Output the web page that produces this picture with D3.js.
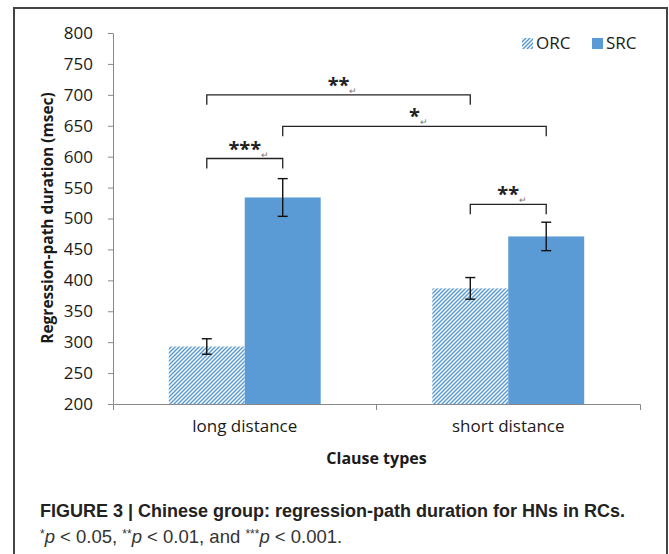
<!DOCTYPE html>
<html>
<head>
<meta charset="utf-8">
<script src="https://cdn.jsdelivr.net/npm/d3@7"></script>
<style>
  body { margin: 0; background: #fff; }
  text { font-family: "Open Sans", sans-serif; }
</style>
</head>
<body>
<div id="chart"></div>
<script>
// data
const categories = ["long distance", "short distance"];
const seriesNames = ["ORC", "SRC"];
const orcValues = [293, 387];
const srcValues = [534, 471];
const orcErrors = [12.5, 17.5];
const srcErrors = [30.5, 23];
const yTicks = [200, 250, 300, 350, 400, 450, 500, 550, 600, 650, 700, 750, 800];

// significance brackets: [category, series] at each end, height in msec, label
const bracketFrom = [["long distance", "ORC"], ["long distance", "SRC"], ["long distance", "ORC"], ["short distance", "ORC"]];
const bracketTo = [["short distance", "ORC"], ["short distance", "SRC"], ["long distance", "SRC"], ["short distance", "SRC"]];
const bracketLevels = [700, 649, 597, 523];
const bracketLabels = ["**", "*", "***", "**"];

// svg container
const svgWidth = 669;
const svgHeight = 554;
const blue = "#5b9bd5";

const svg = d3.select("#chart").append("svg")
    .attr("width", svgWidth)
    .attr("height", svgHeight);

// hatch pattern for ORC
const defs = svg.append("defs");
const pat = defs.append("pattern")
    .attr("id", "hatch")
    .attr("patternUnits", "userSpaceOnUse")
    .attr("width", 4)
    .attr("height", 4);
pat.append("rect").attr("width", 4).attr("height", 4).attr("fill", "#fff");
pat.append("path")
    .attr("d", "M-1,1 l2,-2 M0,4 l4,-4 M3,5 l2,-2")
    .attr("stroke", blue)
    .attr("stroke-width", 1.5);

// frame around the figure
svg.append("rect")
    .attr("x", 14).attr("y", 8)
    .attr("width", 653).attr("height", 570)
    .attr("fill", "none")
    .attr("stroke", "#444")
    .attr("stroke-width", 2);

// chart area
const margin = { top: 33, left: 113 };
const chartWidth = 527;
const chartHeight = 371;

const chartGroup = svg.append("g")
    .attr("transform", `translate(${margin.left}, ${margin.top})`);

const yScale = d3.scaleLinear()
    .domain([200, 800])
    .range([chartHeight, 0]);

const xScale = d3.scaleBand()
    .domain(categories)
    .range([0, chartWidth])
    .padding(0);

const seriesScale = d3.scaleBand()
    .domain(seriesNames)
    .range([0, xScale.bandwidth()])
    .paddingInner(0)
    .paddingOuter(0.735);

// y axis
const yAxis = chartGroup.append("g")
    .call(d3.axisLeft(yScale).tickValues(yTicks).tickSize(5).tickSizeOuter(0).tickPadding(15));
yAxis.selectAll("text")
    .style("font-size", "17px")
    .attr("fill", "#1a1a1a");

// x axis
const xAxis = chartGroup.append("g")
    .attr("transform", `translate(0, ${chartHeight})`)
    .call(d3.axisBottom(xScale).tickSize(0).tickSizeOuter(6).tickPadding(16));
xAxis.selectAll("text")
    .style("font-size", "17px")
    .attr("fill", "#1a1a1a");
xAxis.selectAll(".cat-tick")
    .data(categories.slice(1))
    .enter()
    .append("line")
    .attr("x1", d => xScale(d))
    .attr("x2", d => xScale(d))
    .attr("y1", 0)
    .attr("y2", 6)
    .attr("stroke", "#888");

svg.selectAll(".domain, .tick line").attr("stroke", "#888");

// bars
const rows = categories.map((c, i) => [
    { cat: c, s: "ORC", v: orcValues[i], e: orcErrors[i] },
    { cat: c, s: "SRC", v: srcValues[i], e: srcErrors[i] }
]).flat();

chartGroup.selectAll(".bar")
    .data(rows)
    .enter()
    .append("rect")
    .classed("bar", true)
    .attr("x", d => xScale(d.cat) + seriesScale(d.s))
    .attr("y", d => yScale(d.v))
    .attr("width", seriesScale.bandwidth())
    .attr("height", d => chartHeight - yScale(d.v))
    .attr("fill", d => d.s === "ORC" ? "url(#hatch)" : blue);

// error bars
const barMid = (c, s) => xScale(c) + seriesScale(s) + seriesScale.bandwidth() / 2;
const errG = chartGroup.selectAll(".err")
    .data(rows)
    .enter()
    .append("g")
    .attr("stroke", "#111")
    .attr("stroke-width", 1.4);
errG.append("line")
    .attr("x1", d => barMid(d.cat, d.s)).attr("x2", d => barMid(d.cat, d.s))
    .attr("y1", d => yScale(d.v + d.e)).attr("y2", d => yScale(d.v - d.e));
errG.append("line")
    .attr("x1", d => barMid(d.cat, d.s) - 5).attr("x2", d => barMid(d.cat, d.s) + 5)
    .attr("y1", d => yScale(d.v + d.e)).attr("y2", d => yScale(d.v + d.e));
errG.append("line")
    .attr("x1", d => barMid(d.cat, d.s) - 5).attr("x2", d => barMid(d.cat, d.s) + 5)
    .attr("y1", d => yScale(d.v - d.e)).attr("y2", d => yScale(d.v - d.e));

// significance brackets
bracketLevels.forEach((lvl, i) => {
    const x1 = barMid(bracketFrom[i][0], bracketFrom[i][1]);
    const x2 = barMid(bracketTo[i][0], bracketTo[i][1]);
    const y0 = yScale(lvl);
    chartGroup.append("path")
        .attr("d", `M${x1},${y0 + 10}V${y0}H${x2}V${y0 + 10}`)
        .attr("fill", "none")
        .attr("stroke", "#222")
        .attr("stroke-width", 1.3);
    const t = chartGroup.append("text")
        .attr("x", (x1 + x2) / 2 + 4)
        .attr("y", y0 - 3)
        .attr("text-anchor", "middle")
        .style("font-size", "20px")
        .style("font-weight", "bold")
        .attr("fill", "#222");
    t.append("tspan").text(bracketLabels[i]);
    t.append("tspan")
        .attr("dy", 2)
        .style("font-size", "9px")
        .style("font-weight", "normal")
        .attr("fill", "#777")
        .text("↵");
});

// axis titles
chartGroup.append("text")
    .attr("x", chartWidth / 2)
    .attr("y", chartHeight + 60)
    .attr("text-anchor", "middle")
    .style("font-size", "16px")
    .style("font-weight", "bold")
    .attr("fill", "#1a1a1a")
    .text("Clause types");

svg.append("text")
    .attr("transform", `translate(53, 218) rotate(-90)`)
    .attr("text-anchor", "middle")
    .style("font-size", "15.5px")
    .style("font-weight", "bold")
    .attr("fill", "#1a1a1a")
    .text("Regression-path duration (msec)");

// legend
const legend = svg.append("g").attr("transform", "translate(522, 38)");
seriesNames.forEach((s, i) => {
    const g = legend.append("g").attr("transform", `translate(${i * 70}, 0)`);
    g.append("rect")
        .attr("width", 11).attr("height", 11)
        .attr("fill", s === "ORC" ? "url(#hatch)" : blue);
    g.append("text")
        .attr("x", 14).attr("y", 11)
        .style("font-size", "17px")
        .attr("fill", "#1a1a1a")
        .text(s);
});

// caption
svg.append("text")
    .attr("x", 40).attr("y", 517)
    .style("font-family", "'Liberation Sans Narrow', sans-serif")
    .style("font-size", "18px")
    .style("font-weight", "bold")
    .attr("fill", "#222")
    .text("FIGURE 3 | Chinese group: regression-path duration for HNs in RCs.");

const note = svg.append("text")
    .attr("x", 40).attr("y", 543)
    .style("font-family", "'Liberation Sans Narrow', sans-serif")
    .style("font-size", "18.5px")
    .attr("fill", "#333");
const noteParts = [["*", "p", " < 0.05, "], ["**", "p", " < 0.01, and "], ["***", "p", " < 0.001."]];
noteParts.forEach(p => {
    note.append("tspan").attr("dy", -5).style("font-size", "12px").text(p[0]);
    note.append("tspan").attr("dy", 5).style("font-style", "italic").text(p[1]);
    note.append("tspan").text(p[2]);
});
</script>
</body>
</html>
